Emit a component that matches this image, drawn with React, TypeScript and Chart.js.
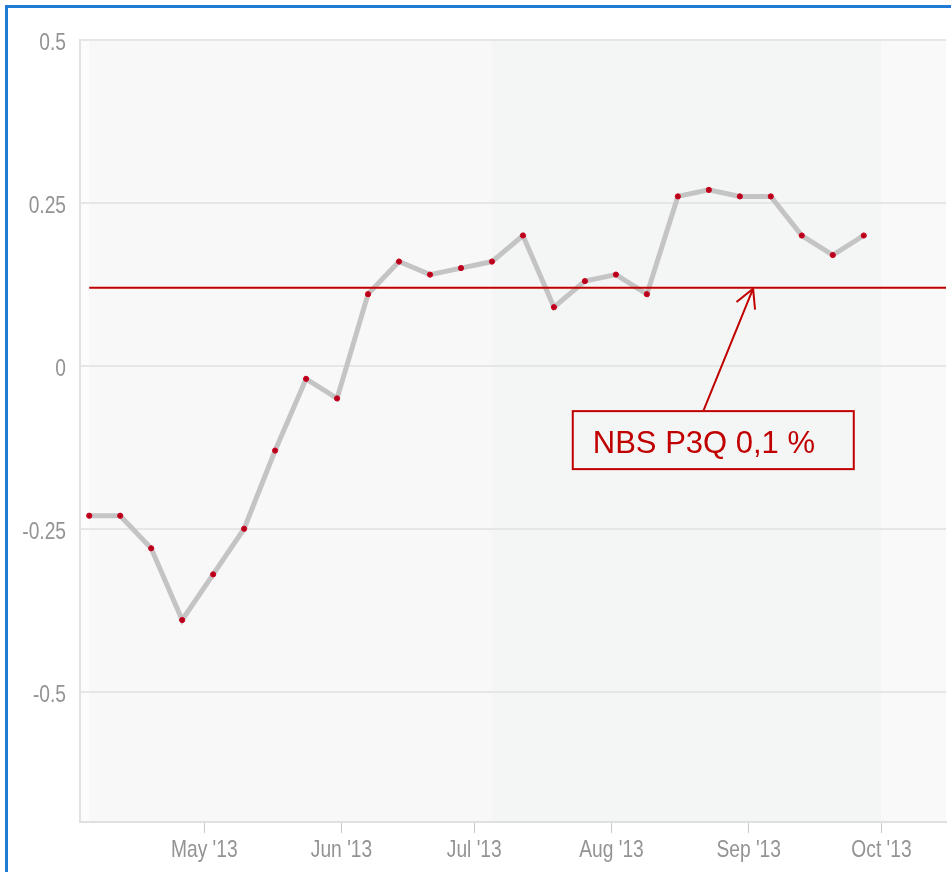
import React, { useEffect, useRef } from "react";
import { Chart, registerables } from "chart.js";

Chart.register(...registerables);

// ---- data ----
const weekDates: string[] = [
  "2013-04-05", "2013-04-12", "2013-04-19", "2013-04-26",
  "2013-05-03", "2013-05-10", "2013-05-17", "2013-05-24", "2013-05-31",
  "2013-06-07", "2013-06-14", "2013-06-21", "2013-06-28",
  "2013-07-05", "2013-07-12", "2013-07-19", "2013-07-26",
  "2013-08-02", "2013-08-09", "2013-08-16", "2013-08-23", "2013-08-30",
  "2013-09-06", "2013-09-13", "2013-09-20", "2013-09-27",
];
const weekValues: number[] = [
  -0.23, -0.23, -0.28, -0.39,
  -0.32, -0.25, -0.13, -0.02, -0.05,
  0.11, 0.16, 0.14, 0.15,
  0.16, 0.2, 0.09, 0.13,
  0.14, 0.11, 0.26, 0.27, 0.26,
  0.26, 0.2, 0.17, 0.2,
];
const monthTickDates: string[] = [
  "2013-05-01", "2013-06-01", "2013-07-01", "2013-08-01", "2013-09-01", "2013-10-01",
];
const monthTickLabels: string[] = ["May '13", "Jun '13", "Jul '13", "Aug '13", "Sep '13", "Oct '13"];
const yTickValues: number[] = [-0.5, -0.25, 0, 0.25, 0.5];
const yTickLabels: string[] = ["-0.5", "-0.25", "0", "0.25", "0.5"];
const yMin = -0.7;
const yMax = 0.5;
const xMinDate = "2013-04-02T22:00:00Z";
const xMaxDate = "2013-10-15T14:00:00Z";

// plot bands
const bandStarts: string[] = ["2013-04-05", "2013-07-05", "2013-10-01"];
const bandEnds: string[] = ["2013-07-05", "2013-10-01", "2013-10-15T14:00:00Z"];
const bandColors: string[] = ["#f8f8f8", "#f4f6f6", "#f9f9f9"];

// reference line + annotation
const referenceValue = 0.12;
const referenceStartDate = "2013-04-05";
const annotationText = "NBS P3Q 0,1 %";
const annotationTipDate = "2013-09-02";
const annotationBoxDate = "2013-08-24";
const annotationBoxValue = -0.114;

const t = (s: string) => Date.parse(s.length === 10 ? s + "T00:00:00Z" : s);

const LABEL_FONT = "24px 'Liberation Sans', Arial, sans-serif";
const LABEL_COLOR = "#939393";
const LABEL_SQUEEZE = 0.8;

const bgPlugin = {
  id: "bgBands",
  beforeDraw(chart: any) {
    const { ctx, chartArea, scales } = chart;
    const xs = scales.x;
    ctx.save();
    ctx.fillStyle = "#fcfcfc";
    ctx.fillRect(chartArea.left, chartArea.top, chartArea.right - chartArea.left, chartArea.bottom - chartArea.top);
    for (let i = 0; i < bandStarts.length; i++) {
      const x0 = Math.max(chartArea.left, xs.getPixelForValue(t(bandStarts[i])));
      const x1 = Math.min(chartArea.right, xs.getPixelForValue(t(bandEnds[i])));
      ctx.fillStyle = bandColors[i];
      ctx.fillRect(x0, chartArea.top, x1 - x0, chartArea.bottom - chartArea.top);
    }
    ctx.restore();
  },
};

const axisLabelPlugin = {
  id: "axisLabels",
  afterDraw(chart: any) {
    const { ctx, scales, chartArea } = chart;
    const xs = scales.x;
    const ys = scales.y;
    ctx.save();
    ctx.font = LABEL_FONT;
    ctx.fillStyle = LABEL_COLOR;
    ctx.textBaseline = "alphabetic";
    // x labels
    ctx.textAlign = "center";
    monthTickDates.forEach((d, i) => {
      const x = xs.getPixelForValue(t(d));
      ctx.save();
      ctx.translate(x, chartArea.bottom + 35);
      ctx.scale(LABEL_SQUEEZE, 1);
      ctx.fillText(monthTickLabels[i], 0, 0);
      ctx.restore();
    });
    // y labels
    ctx.textAlign = "right";
    yTickValues.forEach((v, i) => {
      const y = ys.getPixelForValue(v);
      ctx.save();
      ctx.translate(chartArea.left - 14, y + 10);
      ctx.scale(LABEL_SQUEEZE, 1);
      ctx.fillText(yTickLabels[i], 0, 0);
      ctx.restore();
    });
    ctx.restore();
  },
};

const annotationPlugin = {
  id: "annot",
  afterDraw(chart: any) {
    const { ctx, scales } = chart;
    const xs = scales.x;
    const ys = scales.y;
    const tipX = xs.getPixelForValue(t(annotationTipDate));
    const tipY = ys.getPixelForValue(referenceValue);
    const cx = xs.getPixelForValue(t(annotationBoxDate));
    const cy = ys.getPixelForValue(annotationBoxValue);
    const bw = 281;
    const bh = 58;
    const bx = cx - bw / 2;
    const by = cy - bh / 2;
    ctx.save();
    ctx.strokeStyle = "#c00000";
    ctx.lineWidth = 2;
    ctx.strokeRect(bx, by, bw, bh);
    const baseX = cx - 10;
    const baseY = by;
    ctx.beginPath();
    ctx.moveTo(baseX, baseY);
    ctx.lineTo(tipX, tipY + 1);
    const ang = Math.atan2(baseY - tipY, baseX - tipX);
    const len = 22;
    const spread = (27 * Math.PI) / 180;
    ctx.moveTo(tipX + Math.cos(ang - spread) * len, tipY + Math.sin(ang - spread) * len);
    ctx.lineTo(tipX, tipY + 1);
    ctx.lineTo(tipX + Math.cos(ang + spread) * len, tipY + Math.sin(ang + spread) * len);
    ctx.stroke();
    ctx.fillStyle = "#c00000";
    ctx.font = "31px 'Liberation Sans', Arial, sans-serif";
    ctx.textAlign = "left";
    ctx.textBaseline = "alphabetic";
    ctx.fillText(annotationText, bx + 20, by + 42);
    ctx.restore();
  },
};

export default function App() {
  const ref = useRef<HTMLCanvasElement | null>(null);

  useEffect(() => {
    if (!ref.current) return;
    const seriesData = weekDates.map((d, i) => ({ x: t(d), y: weekValues[i] }));
    const refData = [
      { x: t(referenceStartDate), y: referenceValue },
      { x: t(xMaxDate), y: referenceValue },
    ];
    const chart = new Chart(ref.current, {
      type: "line",
      data: {
        datasets: [
          {
            data: refData as any,
            borderColor: "#c00000",
            borderWidth: 2,
            pointRadius: 0,
            order: 0,
          },
          {
            data: seriesData as any,
            borderColor: "#c4c4c4",
            borderWidth: 5,
            pointRadius: 2.6,
            pointBackgroundColor: "#b5001c",
            pointBorderColor: "#d0001f",
            pointBorderWidth: 1,
            tension: 0,
            order: 1,
          },
        ],
      },
      options: {
        animation: false,
        responsive: false,
        layout: { padding: { top: 40, left: 0, right: 0, bottom: 0 } },
        plugins: { legend: { display: false }, tooltip: { enabled: false } },
        scales: {
          x: {
            type: "linear",
            min: t(xMinDate),
            max: t(xMaxDate),
            afterBuildTicks: (scale: any) => {
              scale.ticks = monthTickDates.map((d) => ({ value: t(d) }));
            },
            afterFit: (scale: any) => {
              scale.height = 50;
            },
            ticks: { display: false, autoSkip: false, maxRotation: 0 },
            grid: {
              drawOnChartArea: false,
              drawTicks: true,
              tickLength: 11,
              color: "#c8c8c8",
              lineWidth: 1,
            },
            border: { display: true, color: "#e0e0e0", width: 2 },
          },
          y: {
            type: "linear",
            min: yMin,
            max: yMax,
            afterBuildTicks: (scale: any) => {
              scale.ticks = yTickValues.map((v) => ({ value: v }));
            },
            afterFit: (scale: any) => {
              scale.width = 80;
            },
            ticks: { display: false },
            grid: {
              drawTicks: false,
              color: "#e6e6e6",
              lineWidth: 2,
            },
            border: { display: true, color: "#e2e2e2", width: 2 },
          },
        },
      },
      plugins: [bgPlugin, axisLabelPlugin, annotationPlugin],
    });
    return () => chart.destroy();
  }, []);

  return (
    <div
      style={{
        position: "fixed",
        left: 0,
        top: 0,
        width: 951,
        height: 872,
        overflow: "hidden",
        background: "#ffffff",
      }}
    >
      <div
        style={{
          position: "absolute",
          left: 5,
          top: 5,
          width: 1000,
          height: 1000,
          border: "3px solid #1f7bd3",
          boxSizing: "border-box",
        }}
      />
      <canvas
        ref={ref}
        width={951}
        height={872}
        style={{ position: "absolute", left: 0, top: 0, width: 951, height: 872 }}
      />
    </div>
  );
}
